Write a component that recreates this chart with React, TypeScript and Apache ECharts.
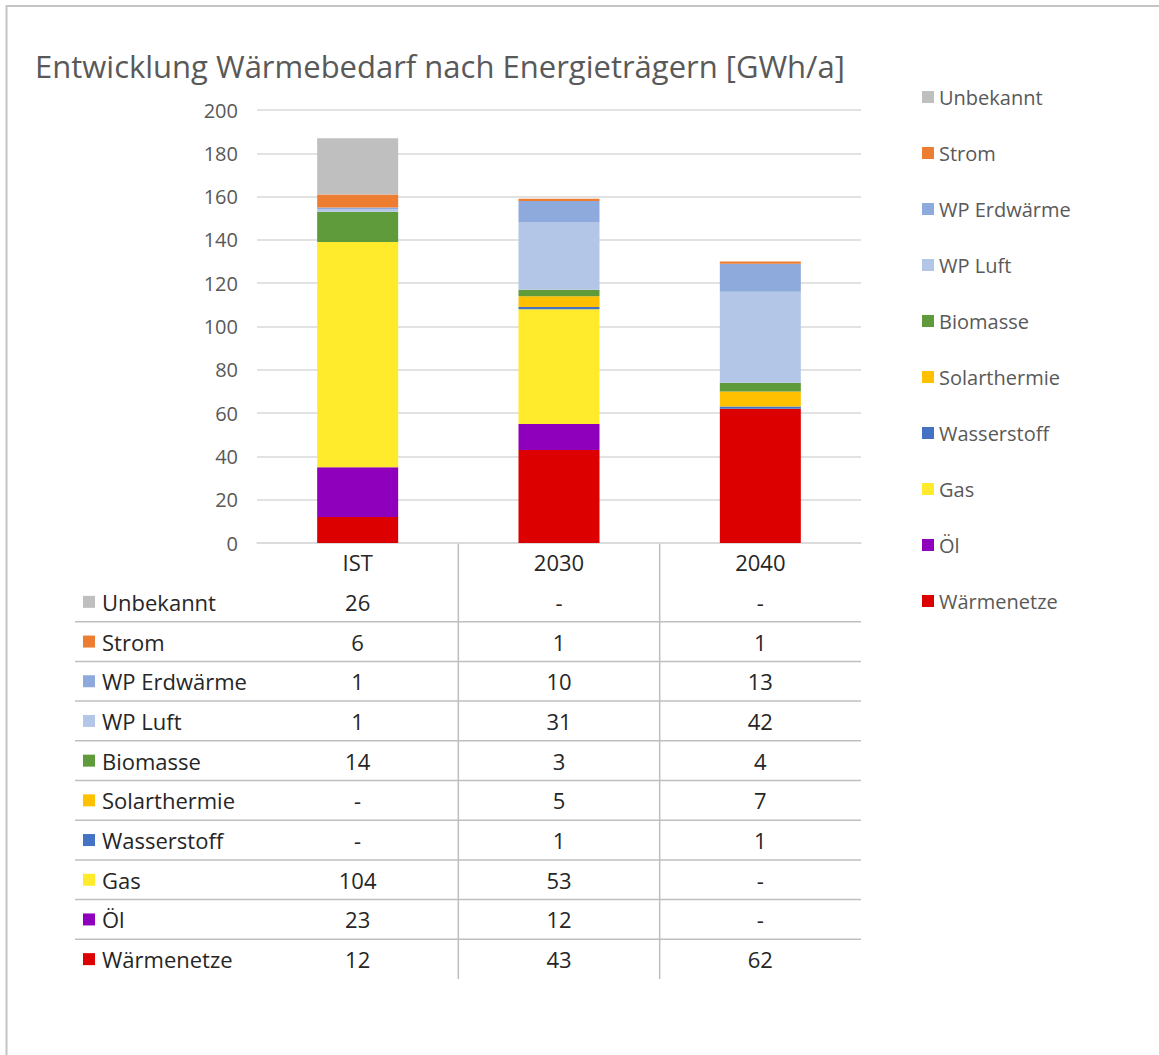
import React, { useEffect, useRef } from "react";
import * as echarts from "echarts";

// ---- data ----
const categories = ["IST", "2030", "2040"];
// bottom-to-top stacking order
const seriesNames = [
  "Wärmenetze",
  "Öl",
  "Gas",
  "Wasserstoff",
  "Solarthermie",
  "Biomasse",
  "WP Luft",
  "WP Erdwärme",
  "Strom",
  "Unbekannt",
];
const waermenetze = [12, 43, 62];
const oel = [23, 12, null];
const gas = [104, 53, null];
const wasserstoff = [null, 1, 1];
const solarthermie = [null, 5, 7];
const biomasse = [14, 3, 4];
const wpLuft = [1, 31, 42];
const wpErdwaerme = [1, 10, 13];
const strom = [6, 1, 1];
const unbekannt = [26, null, null];
const seriesValues = [
  waermenetze,
  oel,
  gas,
  wasserstoff,
  solarthermie,
  biomasse,
  wpLuft,
  wpErdwaerme,
  strom,
  unbekannt,
];
const seriesColors = [
  "#DC0000",
  "#8F00BD",
  "#FFEB2B",
  "#4472C4",
  "#FFC000",
  "#5F9A3B",
  "#B4C6E7",
  "#8EA9DB",
  "#ED7D31",
  "#BFBFBF",
];
const yMin = 0;
const yMax = 200;
const yInterval = 20;
const titleText = "Entwicklung Wärmebedarf nach Energieträgern [GWh/a]";

// ---- layout ----
const W = 1159;
const H = 1055;
const gridLeft = 257;
const gridRight = 861;
const gridTop = 110;
const gridBottom = 543;
const tableLeft = 75;
const rowTop0 = 582;
const rowH = 39.7;
const FONT = "'Open Sans', 'Noto Sans', sans-serif";

export default function App() {
  const ref = useRef<HTMLDivElement>(null);

  useEffect(() => {
    if (!ref.current) return;
    const chart = echarts.init(ref.current, null, { renderer: "svg" });

    const catW = (gridRight - gridLeft) / categories.length;
    const colCenter = (i: number) => gridLeft + (i + 0.5) * catW;

    const graphics: any[] = [];
    // outer frame
    graphics.push({
      type: "rect",
      shape: { x: 6.5, y: 6, width: 1300, height: 1200 },
      style: { fill: "none", stroke: "#C4C4C4", lineWidth: 2 },
      silent: true,
    });

    const nRows = seriesNames.length;
    const tableBottom = rowTop0 + nRows * rowH;
    // vertical table separators
    for (let i = 1; i < categories.length; i++) {
      const x = gridLeft + i * catW;
      graphics.push({
        type: "line",
        shape: { x1: x, y1: gridBottom, x2: x, y2: tableBottom },
        style: { stroke: "#BFBFBF", lineWidth: 1.5 },
        silent: true,
      });
    }
    // rows (top = last series)
    for (let r = 0; r < nRows; r++) {
      const si = nRows - 1 - r;
      const cy = rowTop0 + (r + 0.5) * rowH;
      if (r < nRows - 1) {
        const ly = rowTop0 + (r + 1) * rowH;
        graphics.push({
          type: "line",
          shape: { x1: tableLeft, y1: ly, x2: gridRight, y2: ly },
          style: { stroke: "#BFBFBF", lineWidth: 1.5 },
          silent: true,
        });
      }
      graphics.push({
        type: "rect",
        shape: { x: 83, y: cy - 6, width: 12, height: 12 },
        style: { fill: seriesColors[si] },
        silent: true,
      });
      graphics.push({
        type: "text",
        x: 102,
        y: cy,
        style: {
          text: seriesNames[si],
          fontSize: 22,
          fontFamily: FONT,
          fill: "#262626",
          align: "left",
          verticalAlign: "middle",
          textAlign: "left",
          textVerticalAlign: "middle",
        },
        silent: true,
      });
      seriesValues[si].forEach((v, ci) => {
        graphics.push({
          type: "text",
          x: colCenter(ci),
          y: cy,
          style: {
            text: v == null ? "-" : String(v),
            fontSize: 22,
            fontFamily: FONT,
            fill: "#262626",
            align: "center",
            verticalAlign: "middle",
            textAlign: "center",
            textVerticalAlign: "middle",
          },
          silent: true,
        });
      });
    }

    chart.setOption({
      animation: false,
      backgroundColor: "#FFFFFF",
      title: {
        text: titleText,
        left: 30,
        top: 45,
        textStyle: {
          fontSize: 31,
          fontWeight: "normal",
          fontFamily: FONT,
          color: "#595959",
        },
      },
      legend: {
        orient: "vertical",
        left: 922,
        top: 87,
        padding: 0,
        itemWidth: 12,
        itemHeight: 12,
        itemGap: 36,
        icon: "rect",
        selectedMode: false,
        data: [...seriesNames].reverse(),
        textStyle: {
          fontSize: 20,
          lineHeight: 20,
          fontFamily: FONT,
          color: "#595959",
        },
      },
      grid: {
        left: gridLeft,
        right: W - gridRight,
        top: gridTop,
        bottom: H - gridBottom,
        containLabel: false,
      },
      xAxis: {
        type: "category",
        data: categories,
        axisLine: { show: true, lineStyle: { color: "#D9D9D9", width: 1.5 } },
        axisTick: { show: false },
        axisLabel: {
          fontSize: 22,
          fontFamily: FONT,
          color: "#262626",
          margin: 8,
        },
      },
      yAxis: {
        type: "value",
        min: yMin,
        max: yMax,
        interval: yInterval,
        axisLine: { show: false },
        axisTick: { show: false },
        splitLine: { lineStyle: { color: "#D9D9D9", width: 1.5 } },
        axisLabel: {
          fontSize: 20,
          fontFamily: FONT,
          color: "#595959",
          margin: 19,
        },
      },
      series: seriesNames.map((name, i) => ({
        name,
        type: "bar",
        stack: "total",
        barWidth: 81,
        data: seriesValues[i],
        itemStyle: { color: seriesColors[i] },
        emphasis: { disabled: true },
      })),
      graphic: graphics,
    });

    return () => chart.dispose();
  }, []);

  return (
    <div
      ref={ref}
      style={{ position: "absolute", left: 0, top: 0, width: W, height: H }}
    />
  );
}
